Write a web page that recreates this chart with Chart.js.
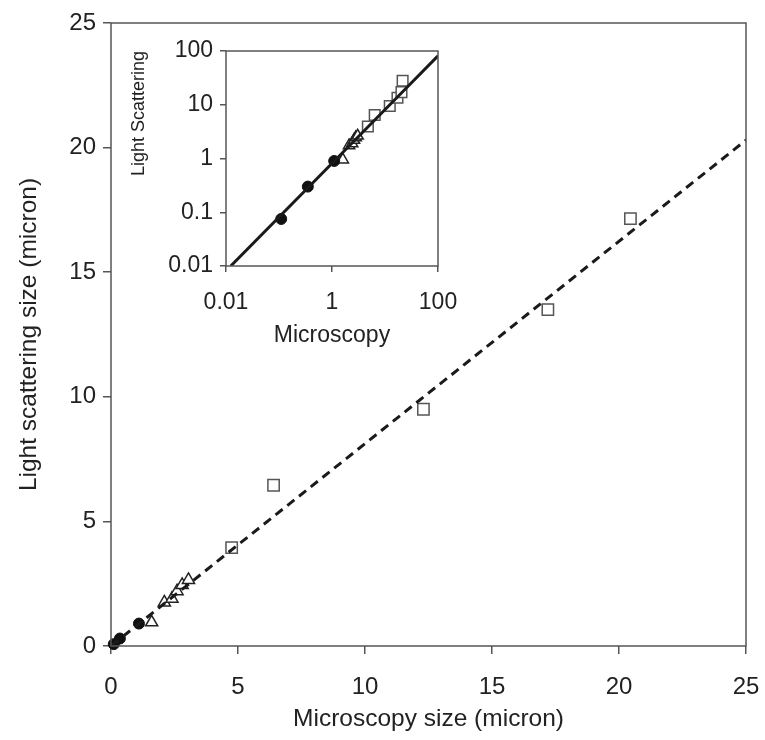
<!DOCTYPE html>
<html>

<head>
    <title>Light scattering vs microscopy size</title>
    <script src="https://cdn.jsdelivr.net/npm/chart.js"></script>
    <style>
        body { margin: 0; background: #fff; }
        #wrap { position: relative; width: 765px; height: 740px; }
        canvas { position: absolute; }
    </style>
</head>

<body>

    <div id="wrap">
        <canvas id="mainChart" width="765" height="740" style="left:0;top:0"></canvas>
        <canvas id="insetChart" width="340" height="330" style="left:120px;top:30px"></canvas>
    </div>

    <script>
        // data (micron)
        var circleX = [0.11, 0.35, 1.1];
        var circleY = [0.075, 0.3, 0.9];
        var triangleX = [1.6, 2.1, 2.4, 2.6, 2.8, 3.05];
        var triangleY = [0.95, 1.75, 1.9, 2.2, 2.45, 2.65];
        var squareX = [4.75, 6.4, 12.3, 17.2, 20.45, 21.5];
        var squareY = [3.95, 6.45, 9.5, 13.5, 17.15, 28];
        var fitX = [0.0123, 25, 100];
        var fitY = [0.01, 20.3, 81.2];

        var mainTicks = [0, 5, 10, 15, 20, 25];
        var insetXTicks = [0.01, 1, 100];
        var insetYTicks = [0.01, 0.1, 1, 10, 100];

        var FONT = "'Liberation Sans', Arial, sans-serif";
        var AXIS = '#555';
        var TEXT = '#222';

        function pts(xs, ys) {
            return xs.map(function (x, i) { return { x: x, y: ys[i] }; });
        }

        function fixTicks(list) {
            return function (s) { s.ticks = list.map(function (v) { return { value: v }; }); };
        }

        // box around the plot area
        var framePlugin = {
            id: 'frame',
            afterDraw: function (chart) {
                var a = chart.chartArea, ctx = chart.ctx;
                ctx.save();
                ctx.strokeStyle = AXIS;
                ctx.lineWidth = 1.5;
                ctx.strokeRect(a.left, a.top, a.right - a.left, a.bottom - a.top);
                ctx.restore();
            }
        };

        function markerSets(big) {
            return [{
                label: 'fit',
                data: pts(fitX, fitY),
                showLine: true,
                borderColor: '#1a1a1a',
                borderWidth: 3,
                borderDash: big ? [9, 6] : [],
                pointRadius: 0,
                order: 0
            }, {
                label: 'circles',
                data: pts(circleX, circleY),
                pointStyle: 'circle',
                pointRadius: 5.5,
                backgroundColor: '#111',
                borderColor: '#111',
                clip: big ? false : undefined,
                order: 1
            }, {
                label: 'triangles',
                data: pts(triangleX, triangleY),
                pointStyle: 'triangle',
                pointRadius: big ? 7 : 6.5,
                backgroundColor: '#fff',
                borderColor: '#222',
                borderWidth: 1.5,
                clip: big ? false : undefined,
                order: 1
            }, {
                label: 'squares',
                data: pts(squareX, squareY),
                pointStyle: 'rect',
                pointRadius: big ? 8 : 7.5,
                backgroundColor: '#fff',
                borderColor: '#555',
                borderWidth: 1.5,
                clip: big ? false : undefined,
                order: 1
            }];
        }

        var mainChart = new Chart(document.getElementById('mainChart'), {
            type: 'scatter',
            data: { datasets: markerSets(true) },
            options: {
                responsive: false,
                animation: false,
                layout: { padding: { top: 23, right: 19, left: 0, bottom: 0 } },
                plugins: { legend: { display: false }, tooltip: { enabled: false } },
                scales: {
                    x: {
                        type: 'linear',
                        min: 0,
                        max: 25,
                        afterBuildTicks: fixTicks(mainTicks),
                        afterFit: function (s) { s.height = 94; s.paddingLeft = 0; s.paddingRight = 0; },
                        grid: { drawOnChartArea: false, drawTicks: true, tickLength: 8, color: AXIS, lineWidth: 1.5 },
                        border: { display: false },
                        ticks: { color: TEXT, font: { family: FONT, size: 24 }, padding: 19, maxRotation: 0 },
                        title: {
                            display: true,
                            text: 'Microscopy size (micron)',
                            color: TEXT,
                            font: { family: FONT, size: 24.5 },
                            padding: { top: 0, bottom: 6 }
                        }
                    },
                    y: {
                        type: 'linear',
                        min: 0,
                        max: 25,
                        afterBuildTicks: fixTicks(mainTicks),
                        afterFit: function (s) { s.width = 111; },
                        grid: { drawOnChartArea: false, drawTicks: true, tickLength: 8, color: AXIS, lineWidth: 1.5 },
                        border: { display: false },
                        ticks: { color: TEXT, font: { family: FONT, size: 24 }, padding: 7 },
                        title: {
                            display: true,
                            text: 'Light scattering size (micron)',
                            color: TEXT,
                            font: { family: FONT, size: 24.5 },
                            padding: { top: 15, bottom: 0 }
                        }
                    }
                }
            },
            plugins: [framePlugin]
        });

        var insetChart = new Chart(document.getElementById('insetChart'), {
            type: 'scatter',
            data: { datasets: markerSets(false) },
            options: {
                responsive: false,
                animation: false,
                layout: { padding: { top: 21, right: 22, left: 0, bottom: 0 } },
                plugins: { legend: { display: false }, tooltip: { enabled: false } },
                scales: {
                    x: {
                        type: 'logarithmic',
                        min: 0.01,
                        max: 100,
                        afterBuildTicks: fixTicks(insetXTicks),
                        afterFit: function (s) { s.height = 94; s.paddingLeft = 0; s.paddingRight = 0; },
                        grid: { drawOnChartArea: false, drawTicks: true, tickLength: 6, color: AXIS, lineWidth: 1.5 },
                        border: { display: false },
                        ticks: {
                            color: TEXT, font: { family: FONT, size: 23 }, padding: 17, maxRotation: 0,
                            callback: function (v) { return String(v); }
                        },
                        title: {
                            display: true,
                            text: 'Microscopy',
                            color: TEXT,
                            font: { family: FONT, size: 23 },
                            padding: { top: 0, bottom: 11 }
                        }
                    },
                    y: {
                        type: 'logarithmic',
                        min: 0.01,
                        max: 100,
                        afterBuildTicks: fixTicks(insetYTicks),
                        afterFit: function (s) { s.width = 106; },
                        grid: { drawOnChartArea: false, drawTicks: true, tickLength: 6, color: AXIS, lineWidth: 1.5 },
                        border: { display: false },
                        ticks: {
                            color: TEXT, font: { family: FONT, size: 23 }, padding: 7,
                            callback: function (v) { return String(v); }
                        },
                        title: {
                            display: true,
                            text: 'Light Scattering',
                            align: 'end',
                            color: TEXT,
                            font: { family: FONT, size: 18 },
                            padding: { top: 8, bottom: 0 }
                        }
                    }
                }
            },
            plugins: [framePlugin]
        });
    </script>

</body>

</html>
